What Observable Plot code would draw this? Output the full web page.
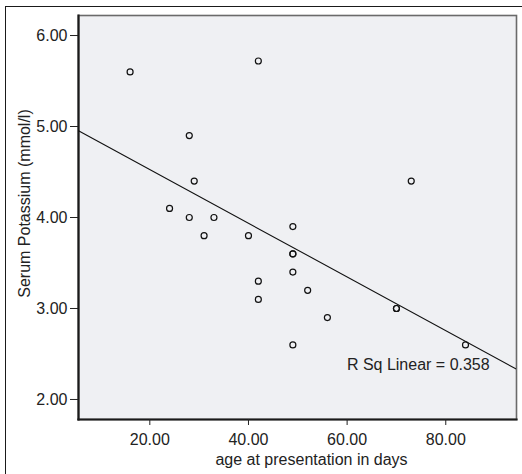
<!DOCTYPE html>
<html>
<head>
<meta charset="utf-8">
<script src="https://cdn.jsdelivr.net/npm/d3@7"></script>
<script src="https://cdn.jsdelivr.net/npm/@observablehq/plot@0.6"></script>
<style>
  html, body { margin: 0; padding: 0; background: #fff; }
  #wrap { position: relative; width: 522px; height: 474px; overflow: hidden; }
  #outer { position: absolute; left: 5px; top: 6px; width: 530px; height: 480px;
           border-left: 1.6px solid #1a1a1a; border-top: 1.6px solid #1a1a1a; box-sizing: border-box; pointer-events: none; }
</style>
</head>
<body>
<div id="wrap"><div id="outer"></div></div>
<script>
// Data
const ageDays = [16, 28, 29, 24, 28, 33, 31, 40, 42, 42, 42, 49, 49, 49, 49, 49, 52, 56, 70, 70, 73, 84];
const potassium = [5.6, 4.9, 4.4, 4.1, 4.0, 4.0, 3.8, 3.8, 5.72, 3.3, 3.1, 3.9, 3.6, 3.6, 3.4, 2.6, 3.2, 2.9, 3.0, 3.0, 4.4, 2.6];
const xTicks = [20, 40, 60, 80];
const yTicks = [2, 3, 4, 5, 6];
const xDomain = [5.54, 94.34];
const yDomain = [1.78, 6.22];
const fitLabel = "R Sq Linear = 0.358";
const xTitle = "age at presentation in days";
const yTitle = "Serum Potassium (mmol/l)";

const points = ageDays.map((x, i) => ({x, y: potassium[i]}));

// least-squares fit computed from the data
const mx = d3.mean(ageDays), my = d3.mean(potassium);
const sxy = d3.sum(points, d => (d.x - mx) * (d.y - my));
const sxx = d3.sum(points, d => (d.x - mx) ** 2);
const slope = sxy / sxx, intercept = my - slope * mx;
const fitLine = xDomain.map(x => ({x, y: intercept + slope * x}));

const font = "Liberation Sans, Arial, sans-serif";

const chart = Plot.plot({
  width: 522,
  height: 474,
  marginLeft: 78,
  marginTop: 15,
  marginRight: 6,
  marginBottom: 55,
  style: {fontFamily: font, fontSize: "16px", color: "#222", background: "transparent"},
  x: {domain: xDomain, ticks: xTicks, tickFormat: d3.format(".2f"), label: null},
  y: {domain: yDomain, ticks: yTicks, tickFormat: d3.format(".2f"), label: null},
  marks: [
    Plot.frame({fill: "#eff0f3", stroke: "#6a6a6a", strokeWidth: 1.6}),
    Plot.frame({anchor: "left", stroke: "#1a1a1a", strokeWidth: 2.2}),
    Plot.frame({anchor: "bottom", stroke: "#1a1a1a", strokeWidth: 2.2}),
    Plot.axisY({ticks: yTicks, tickFormat: d3.format(".2f"), tickSize: 8, tickPadding: 3, fontSize: 16, stroke: "#222", label: null}),
    Plot.axisX({ticks: xTicks, tickFormat: d3.format(".2f"), tickSize: 6, tickPadding: 8, fontSize: 16, stroke: "#222", label: null}),
    Plot.line(fitLine, {x: "x", y: "y", stroke: "#111", strokeWidth: 1.1, clip: true}),
    Plot.dot(points, {x: "x", y: "y", r: 3, stroke: "#111", strokeWidth: 1.2, fill: "none"}),
    Plot.text([fitLabel], {x: 88.9, y: 2.38, text: d => d, textAnchor: "end", fontSize: 16, fill: "#222"}),
    Plot.text([xTitle], {frameAnchor: "bottom", dx: 14, dy: 40, text: d => d, textAnchor: "middle", lineAnchor: "middle", fontSize: 16, fill: "#222"}),
    Plot.text([yTitle], {frameAnchor: "left", dx: -54, dy: -14, rotate: -90, text: d => d, textAnchor: "middle", lineAnchor: "middle", fontSize: 16, fill: "#222"})
  ]
});
document.getElementById("wrap").prepend(chart);
</script>
</body>
</html>
